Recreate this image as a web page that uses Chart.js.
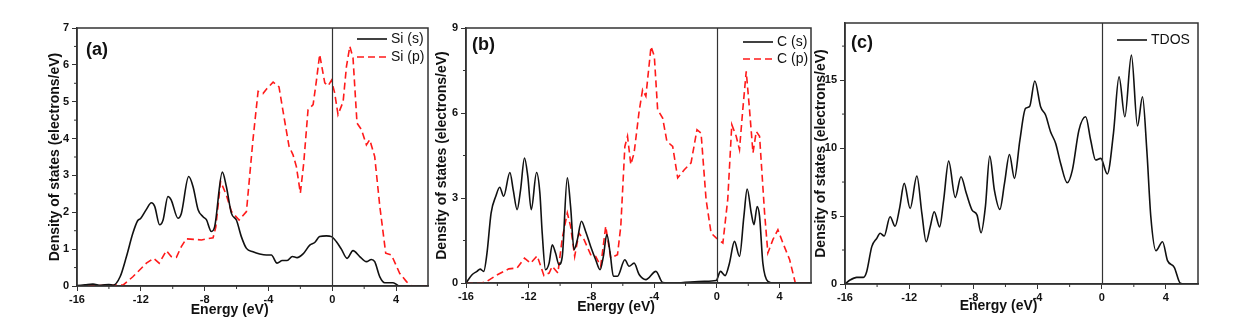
<!DOCTYPE html>
<html>
<head>
<meta charset="utf-8">
<script src="https://cdn.jsdelivr.net/npm/chart.js@4.4.1/dist/chart.umd.min.js"></script>
<style>
  html, body { margin: 0; padding: 0; background: #fff; width: 1258px; height: 330px; overflow: hidden; }
  .panel { position: absolute; top: 0; height: 330px; }
</style>
</head>
<body>
<div class="panel" style="left:0;width:432px"><canvas id="chartA"></canvas></div>
<div class="panel" style="left:425px;width:390px"><canvas id="chartB"></canvas></div>
<div class="panel" style="left:812px;width:446px"><canvas id="chartC"></canvas></div>
<script>
// x ticks shared by all panels
const xTicks = [-16, -12, -8, -4, 0, 4];
const aTicks = [0, 1, 2, 3, 4, 5, 6, 7];
const bTicks = [0, 3, 6, 9];
const cTicks = [0, 5, 10, 15];

// (a) Si
const siS_E = [-16,-15.5,-15,-14.5,-14,-13.74,-13.3,-12.9,-12.5,-12.2,-12.0,-11.65,-11.34,-11.13,-10.82,-10.6,-10.3,-10.1,-9.67,-9.46,-9.0,-8.73,-8.41,-8.1,-7.89,-7.58,-7.37,-6.89,-6.64,-6.32,-6.01,-5.7,-5.38,-4.97,-4.55,-4.13,-3.82,-3.46,-3.13,-2.83,-2.5,-2.21,-1.83,-1.41,-1.1,-0.79,-0.37,-0.05,0.26,0.57,0.93,1.3,1.72,2.14,2.45,2.66,2.98,3.29,3.81,4.23,5,6];
const siS_V = [0.01,0.03,0.05,0.02,0.04,0.02,0.25,0.8,1.43,1.77,1.84,2.08,2.26,2.16,1.66,1.8,2.43,2.34,1.84,1.97,2.97,2.7,2.07,1.88,1.8,1.48,1.61,3.09,2.7,1.97,1.79,1.34,1.02,0.93,0.87,0.84,0.84,0.62,0.69,0.69,0.8,0.77,0.87,1.11,1.18,1.34,1.36,1.34,1.2,1.0,0.75,0.96,0.8,0.66,0.72,0.66,0.25,0.09,0.09,0,0,0];
const siP_E = [-16,-13.1,-12.5,-11.65,-11.2,-10.85,-10.4,-10.1,-9.77,-9.46,-9.15,-8.2,-7.47,-7.3,-7.0,-6.64,-6.32,-5.84,-5.38,-4.97,-4.65,-4.34,-4.13,-3.71,-3.34,-2.98,-2.71,-2.46,-2.25,-2.0,-1.79,-1.52,-1.2,-1.0,-0.79,-0.47,-0.26,-0.05,0.15,0.36,0.68,0.89,1.1,1.3,1.55,1.83,2.14,2.35,2.66,2.98,3.35,3.71,4.23,4.65,4.96,6];
const siP_V = [0,0.03,0.25,0.62,0.75,0.62,0.96,0.8,0.78,1.07,1.28,1.25,1.31,1.6,2.84,2.47,2.02,1.79,2.02,3.97,5.28,5.22,5.34,5.53,5.4,4.47,3.79,3.56,3.24,2.52,3.33,4.78,4.92,5.55,6.28,5.51,5.43,5.58,5.24,4.65,5.0,5.96,6.5,6.19,4.42,4.24,3.83,3.97,3.51,2.16,0.89,0.84,0.34,0.12,0,0];

// (b) C
const cS_E = [-16,-15.6,-15.3,-15.1,-14.87,-14.66,-14.4,-14.1,-13.85,-13.6,-13.2,-12.99,-12.74,-12.52,-12.27,-12.06,-11.84,-11.5,-11.29,-11.14,-10.93,-10.7,-10.5,-10.29,-10.07,-9.86,-9.54,-9.33,-9.11,-8.9,-8.64,-8.37,-8.05,-7.73,-7.45,-7.24,-7.02,-6.81,-6.6,-6.34,-5.87,-5.6,-5.28,-4.96,-4.53,-3.89,-3.46,-2.7,-0.8,-0.05,0.23,0.52,0.8,1.12,1.44,1.72,1.93,2.19,2.36,2.57,2.72,2.93,3.25,3.68,6];
const cS_V = [0,0.3,0.41,0.49,0.41,1.06,2.47,3.06,3.38,3.06,3.9,3.29,2.59,3.29,4.41,3.76,2.59,3.9,3.18,1.76,0.47,0.7,1.35,1.06,0.65,0.94,3.71,2.7,1.18,1.53,2.18,1.82,1.29,0.82,0.47,0.94,1.71,1.06,0.24,0.24,0.82,0.59,0.7,0.3,0.12,0.41,0.02,0,0.06,0.09,0.41,0.26,0.7,1.47,0.94,2.35,3.32,2.47,2.06,2.7,2.35,0.7,0.06,0,0];
const cP_E = [-16,-15,-14.66,-14.0,-13.27,-12.74,-12.27,-11.88,-11.46,-11.03,-10.7,-10.5,-10.14,-9.86,-9.54,-9.33,-9.07,-8.8,-8.47,-8.05,-7.73,-7.41,-7.09,-6.77,-6.34,-6.13,-5.87,-5.7,-5.49,-5.28,-4.96,-4.74,-4.53,-4.2,-3.99,-3.78,-3.46,-3.19,-2.82,-2.5,-2.08,-1.65,-1.27,-1.01,-0.69,-0.37,-0.05,0.38,0.69,0.95,1.23,1.44,1.65,1.87,2.08,2.3,2.51,2.72,3.04,3.25,3.57,3.89,4.21,4.64,5.0,6];
const cP_V = [0,0,0.06,0.29,0.5,0.53,0.88,0.7,0.96,0.26,0.35,0.59,0.35,1.59,2.47,2.0,0.94,1.76,1.53,1.0,0.94,0.59,2.0,0.88,1.0,2.0,4.82,5.18,4.18,4.59,6.06,6.82,6.59,8.35,8.0,6.12,5.82,5.0,4.82,3.71,4.0,4.24,5.41,5.29,2.94,1.76,1.59,1.41,2.94,5.59,5.18,4.71,6.12,7.47,6.12,4.59,5.35,5.18,2.47,1.06,1.53,1.88,1.41,0.82,0,0];

// (c) total
const tdos_E = [-16,-15.69,-15.27,-14.85,-14.65,-14.33,-14.02,-13.81,-13.56,-13.19,-12.88,-12.6,-12.31,-11.94,-11.52,-11.21,-10.94,-10.69,-10.44,-10.1,-9.85,-9.54,-9.13,-8.77,-8.44,-8.08,-7.77,-7.52,-7.25,-6.98,-6.69,-6.35,-6.06,-5.75,-5.44,-5.1,-4.75,-4.5,-4.17,-3.81,-3.5,-3.19,-2.87,-2.56,-2.15,-1.83,-1.42,-1.0,-0.69,-0.38,-0.06,0.35,0.73,1.08,1.44,1.85,2.23,2.54,2.81,3.06,3.38,3.79,4.1,4.52,4.9,5.15,6];
const tdos_V = [0,0.29,0.49,0.49,0.9,2.75,3.36,3.73,3.53,4.95,4.26,5.56,7.4,5.56,7.94,5.2,3.11,4.2,5.32,4.2,6.18,9.04,6.37,7.89,6.67,5.44,5.07,3.77,5.69,9.41,6.91,5.49,7.4,9.53,7.77,10.59,12.92,13.04,14.93,13.04,12.43,11.2,10.34,8.87,7.45,8.38,11.32,12.3,10.59,9.12,9.24,8.09,11.08,15.25,12.3,16.84,11.62,13.77,9.85,4.95,2.45,3.11,1.72,1.23,0.05,0,0];

const FONT = "'Liberation Sans', Arial, sans-serif";
const AXIS = '#333';
const BLACK = '#111';
const RED = '#ff1a1a';

// frame, zero line, minor ticks, panel tag, x title and in-plot legend
const panelPlugin = {
  id: 'panel',
  afterDatasetsDraw(chart, args, o) {
    const { ctx, chartArea: a, scales: { x, y } } = chart;
    ctx.save();
    ctx.strokeStyle = AXIS;
    ctx.lineWidth = 1.2;
    const x0 = Math.round(x.getPixelForValue(0)) + 0.5;
    ctx.beginPath(); ctx.moveTo(x0, a.top); ctx.lineTo(x0, a.bottom); ctx.stroke();
    ctx.lineWidth = 1.5;
    ctx.strokeRect(a.left, a.top, a.width, a.height);
    ctx.lineWidth = 1;
    ctx.beginPath();
    for (let v = x.min + 2; v < x.max; v += 4) {
      const px = x.getPixelForValue(v);
      ctx.moveTo(px, a.bottom); ctx.lineTo(px, a.bottom + 3);
    }
    for (let v = o.yMinor; v < y.max; v += o.yMinor * 2) {
      const py = y.getPixelForValue(v);
      ctx.moveTo(a.left, py); ctx.lineTo(a.left - 3, py);
    }
    ctx.stroke();
    ctx.fillStyle = '#111';
    ctx.textBaseline = 'middle';
    // x axis title sits a little left of centre, as in the original figure
    ctx.font = 'bold 14px ' + FONT;
    ctx.textAlign = 'center';
    ctx.fillText('Energy (eV)', a.left + a.width * 0.435, a.bottom + o.titleY);
    ctx.textAlign = 'left';
    ctx.font = 'bold 18px ' + FONT;
    ctx.fillText(o.tag, a.left + o.tagX, a.top + o.tagY);
    ctx.font = '14px ' + FONT;
    chart.data.datasets.forEach((d, i) => {
      const ly = a.top + o.rows[i];
      const lx = a.right - o.legX;
      ctx.strokeStyle = d.borderColor;
      ctx.lineWidth = 1.6;
      ctx.setLineDash(d.borderDash || []);
      ctx.beginPath(); ctx.moveTo(lx, ly); ctx.lineTo(lx + 30, ly); ctx.stroke();
      ctx.setLineDash([]);
      ctx.fillText(d.label, lx + 34, ly);
    });
    ctx.restore();
  }
};

function makeChart(id, p) {
  new Chart(document.getElementById(id), {
    type: 'line',
    data: {
      datasets: p.series.map(s => ({
        label: s.label,
        data: s.x.map((e, i) => ({ x: e, y: s.y[i] })),
        borderColor: s.color,
        borderWidth: 1.6,
        borderDash: s.dash || [],
        pointRadius: 0,
        tension: s.dash ? 0 : 0.4,
        cubicInterpolationMode: s.dash ? 'default' : 'monotone',
        fill: false
      }))
    },
    options: {
      animation: false,
      responsive: true,
      maintainAspectRatio: false,
      layout: { padding: { top: p.top, right: p.right, left: 0, bottom: 0 } },
      plugins: {
        legend: { display: false },
        tooltip: { enabled: false },
        panel: p.panel
      },
      scales: {
        x: {
          type: 'linear', min: -16, max: 6,
          afterBuildTicks: s => { s.ticks = xTicks.map(v => ({ value: v })); },
          afterFit: s => { s.height = p.xh; },
          ticks: { font: { family: FONT, size: 11, weight: 'bold' }, color: '#111', padding: 2, maxRotation: 0, callback: v => String(v) },
          grid: { drawOnChartArea: false, tickLength: 5, color: AXIS },
          border: { color: AXIS, width: 1.5 }
        },
        y: {
          type: 'linear', min: 0, max: p.ymax,
          afterBuildTicks: s => { s.ticks = p.yTicks.map(v => ({ value: v })); },
          afterFit: s => { s.width = p.yw; },
          ticks: { font: { family: FONT, size: 11, weight: 'bold' }, color: '#111', padding: 3, callback: v => String(v) },
          grid: { drawOnChartArea: false, tickLength: 5, color: AXIS },
          border: { color: AXIS, width: 1.5 },
          title: { display: true, text: 'Density of states (electrons/eV)', color: '#111', font: { family: FONT, size: 14, weight: 'bold' }, padding: { top: p.ytPad, bottom: 0 } }
        }
      }
    },
    plugins: [panelPlugin]
  });
}

makeChart('chartA', {
  top: 28, right: 4, xh: 44, yw: 77, ymax: 7, yTicks: aTicks, ytPad: 47,
  series: [
    { label: 'Si (s)', x: siS_E, y: siS_V, color: BLACK },
    { label: 'Si (p)', x: siP_E, y: siP_V, color: RED, dash: [7, 4] }
  ],
  panel: { tag: '(a)', tagX: 9, tagY: 22, yMinor: 0.5, legX: 71, rows: [11, 29], titleY: 24 }
});

makeChart('chartB', {
  top: 28, right: 4, xh: 47, yw: 41, ymax: 9, yTicks: bTicks, ytPad: 9,
  series: [
    { label: 'C (s)', x: cS_E, y: cS_V, color: BLACK },
    { label: 'C (p)', x: cP_E, y: cP_V, color: RED, dash: [7, 4] }
  ],
  panel: { tag: '(b)', tagX: 6, tagY: 17, yMinor: 1.5, legX: 68, rows: [14, 31], titleY: 24 }
});

makeChart('chartC', {
  top: 23, right: 60, xh: 46, yw: 33, ymax: 19.2, yTicks: cTicks, ytPad: 1,
  series: [
    { label: 'TDOS', x: tdos_E, y: tdos_V, color: BLACK }
  ],
  panel: { tag: '(c)', tagX: 6, tagY: 20, yMinor: 2.5, legX: 81, rows: [17], titleY: 22 }
});
</script>
</body>
</html>
